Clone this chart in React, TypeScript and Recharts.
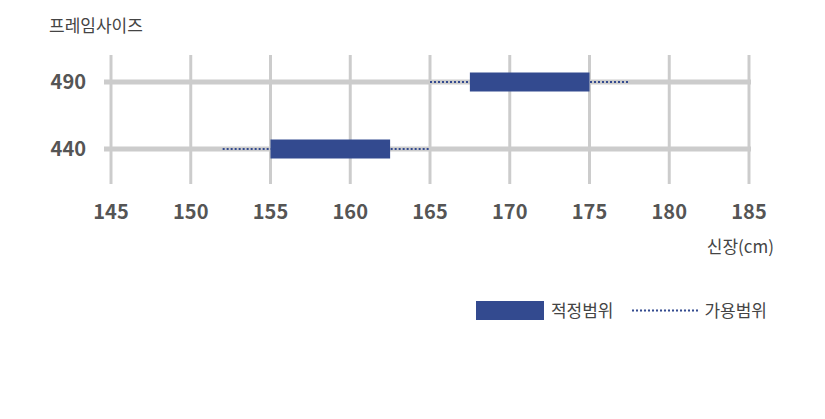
import React from 'react';
import { ComposedChart, Bar, XAxis, YAxis, CartesianGrid, Legend } from 'recharts';

const frameSizes = [490, 440];
const optimalMin = [167.5, 155];
const optimalMax = [175, 162.5];
const usableMin = [165, 152];
const usableMax = [177.5, 165];
const heightTicks = [145, 150, 155, 160, 165, 170, 175, 180, 185];
const sizeTicks = [440, 490];
const optimalName = '적정범위';
const usableName = '가용범위';
const yTitle = '프레임사이즈';
const xTitle = '신장(cm)';

const data = frameSizes.map((s, i) => ({
  size: s,
  optimal: [optimalMin[i], optimalMax[i]],
  usable: [usableMin[i], usableMax[i]],
}));

const BLUE = '#334a8f';
const GRID = '#cccccc';
const FONT = "'Noto Sans CJK KR', 'Noto Sans', sans-serif";

const DottedRange = (props: any) => {
  const { x, y, width, height } = props;
  const cy = y + height / 2;
  return (
    <line x1={x} x2={x + width} y1={cy} y2={cy} stroke={BLUE} strokeWidth={2} strokeDasharray="2 2" />
  );
};

const YTitle = (props: any) => {
  const vb = props.viewBox || {};
  return (
    <text x={vb.x + 41} y={vb.y - 31} dominantBaseline="central" fill="#444" fontSize={17} fontFamily={FONT}>
      {yTitle}
    </text>
  );
};

const XTitle = (props: any) => {
  const vb = props.viewBox || {};
  return (
    <text x={vb.x + vb.width + 23} y={vb.y + 61} textAnchor="end" dominantBaseline="central" fill="#444" fontSize={17} fontFamily={FONT}>
      {xTitle}
    </text>
  );
};

const renderLegend = (props: any) => {
  const payload: any[] = props.payload || [];
  const order = ['optimal', 'usable'];
  const items = order
    .map((k) => payload.find((p) => p.dataKey === k))
    .filter(Boolean);
  return (
    <div style={{ display: 'flex', alignItems: 'center', justifyContent: 'flex-end', height: 20, fontFamily: FONT, fontSize: 17, color: '#444' }}>
      {items.map((it: any) => (
        <div key={it.dataKey} style={{ display: 'flex', alignItems: 'center', marginLeft: it.dataKey === 'usable' ? 19 : 0 }}>
          {it.dataKey === 'optimal' ? (
            <svg width={68} height={19} style={{ display: 'block' }}>
              <rect x={0} y={0} width={68} height={19} fill={BLUE} />
            </svg>
          ) : (
            <svg width={66} height={19} style={{ display: 'block' }}>
              <line x1={0} x2={66} y1={9.5} y2={9.5} stroke={BLUE} strokeWidth={2} strokeDasharray="2 2" />
            </svg>
          )}
          <span style={{ marginLeft: it.dataKey === 'optimal' ? 7 : 6, lineHeight: '20px', whiteSpace: 'nowrap' }}>{it.value}</span>
        </div>
      ))}
    </div>
  );
};

export default function App() {
  return (
    <div style={{ width: 809, height: 403, fontFamily: FONT }}>
      <ComposedChart
        width={809}
        height={403}
        data={data}
        layout="vertical"
        margin={{ top: 47, right: 66, bottom: 91, left: 0 }}
        barGap={-19}
      >
        <CartesianGrid horizontal={true} vertical={false} stroke={GRID} strokeWidth={5} syncWithTicks />
        <CartesianGrid horizontal={false} vertical={true} stroke={GRID} strokeWidth={3} syncWithTicks />
        <XAxis
          type="number"
          domain={[145, 185]}
          ticks={heightTicks}
          interval={0}
          allowDataOverflow
          padding={{ left: 7, right: 2 }}
          axisLine={false}
          tickLine={false}
          tickSize={0}
          tickMargin={21}
          height={116}
          tick={{ fill: '#555', fontSize: 20, fontWeight: 700, fontFamily: FONT }}
          label={{ content: (p: any) => <XTitle {...p} /> }}
        />
        <YAxis
          type="number"
          dataKey="size"
          domain={[440, 490]}
          ticks={sizeTicks}
          interval={0}
          reversed
          padding={{ top: 27, bottom: 35 }}
          axisLine={false}
          tickLine={false}
          tickSize={0}
          tickMargin={18}
          width={96}
          tick={{ fill: '#555', fontSize: 20, fontWeight: 700, fontFamily: FONT }}
          label={{ content: (p: any) => <YTitle {...p} /> }}
        />
        <Legend
          verticalAlign="bottom"
          align="right"
          content={renderLegend}
          wrapperStyle={{ left: 'auto', right: 50, width: 'auto' }}
        />
        <Bar dataKey="usable" name={usableName} barSize={19} fill={BLUE} shape={<DottedRange />} isAnimationActive={false} />
        <Bar dataKey="optimal" name={optimalName} barSize={19} fill={BLUE} isAnimationActive={false} />
      </ComposedChart>
    </div>
  );
}
